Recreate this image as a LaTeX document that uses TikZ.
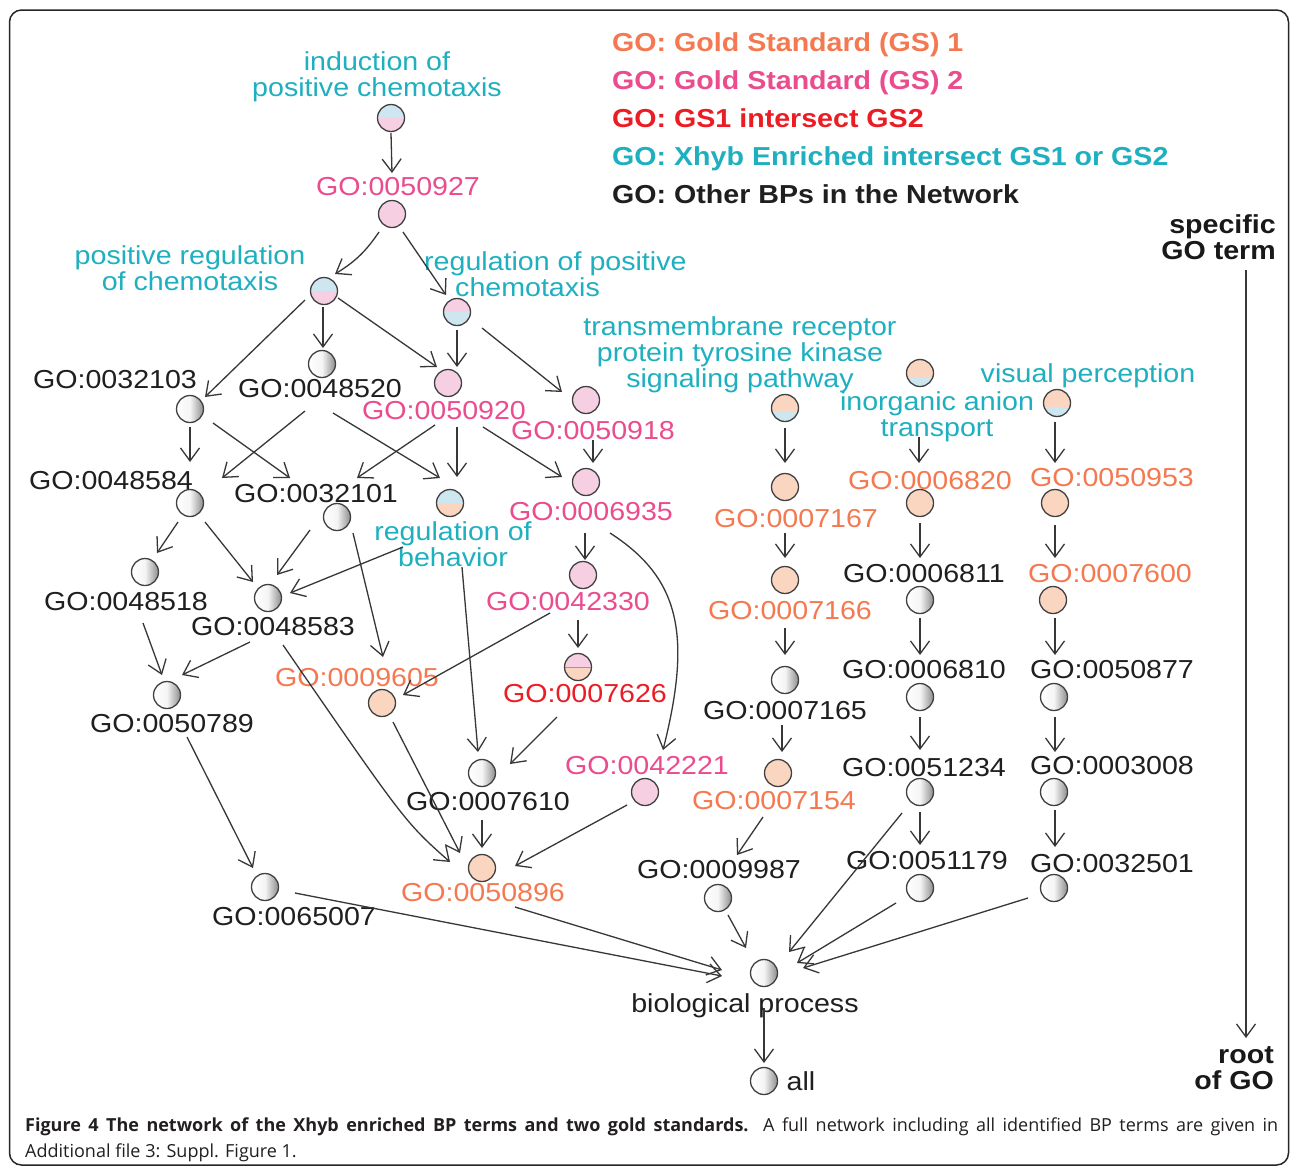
\documentclass[tikz,border=0pt]{standalone}
\usepackage{fontspec}
\setmainfont{Liberation Sans}[FakeStretch=1.1]
\newfontfamily\capfont{Open Sans}
\usetikzlibrary{arrows.meta}
\definecolor{gsone}{RGB}{244,121,80}
\definecolor{gstwo}{RGB}{234,76,142}
\definecolor{gsred}{RGB}{236,28,36}
\definecolor{xcyan}{RGB}{30,176,192}
\definecolor{fpink}{RGB}{246,208,226}
\definecolor{forange}{RGB}{250,214,192}
\definecolor{fblue}{RGB}{206,230,240}
\definecolor{edgec}{RGB}{55,55,55}
\definecolor{captxt}{RGB}{35,31,32}
\tikzset{
 gonode/.style={circle, draw=black!75, line width=1.3pt, minimum size=27pt, inner sep=0pt},
 grey/.style={gonode, left color=white, right color=black!45, middle color=white!96!black},
 pk/.style={gonode, fill=fpink},
 og/.style={gonode, fill=forange},
 split/.style n args={3}{gonode, path picture={
   \fill[#1] ([yshift=#3]path picture bounding box.west) rectangle (path picture bounding box.north east);
   \fill[#2] ([yshift=#3]path picture bounding box.west) rectangle (path picture bounding box.south east);
 }},
 splitline/.style n args={2}{gonode, path picture={
   \fill[#1] (path picture bounding box.west) rectangle (path picture bounding box.north east);
   \fill[#2] (path picture bounding box.west) rectangle (path picture bounding box.south east);
   \draw[black!40, line width=0.8pt] (path picture bounding box.west) -- (path picture bounding box.east);
 }},
 lab/.style={inner sep=0pt, font=\fontsize{26}{26}\selectfont},
 lo/.style={lab, text=gsone},
 lp/.style={lab, text=gstwo},
 lr/.style={lab, text=gsred},
 lk/.style={lab, text=black!88},
 lc/.style={lab, text=xcyan, align=center},
 leg/.style={inner sep=0pt, anchor=base west, font=\fontsize{26}{26}\selectfont\bfseries},
 axl/.style={inner sep=0pt, anchor=east, align=right, text=black!90, font=\fontsize{26}{26}\selectfont\bfseries},
 arr/.style={draw=edgec, line width=1.3pt, -{Straight Barb[length=13pt,width=19pt]}},
}
\newcommand\goedge[6]{\draw[arr] ([shift={(#2,#3)}]#1.center) -- ([shift={(#5,#6)}]#4.center);}
\begin{document}
\begin{tikzpicture}[x=1pt,y=-1pt]
\useasboundingbox (0,0) rectangle (1290,1168);
\fill[white] (0,0) rectangle (1290,1168);
\draw[line width=1.5pt, rounded corners=12pt, draw=black!85] (9.5,10) rectangle (1288.5,1165);

% legend
\node[leg, text=gsone] (leg1) at (612,51) {GO: Gold Standard (GS) 1};
\node[leg, text=gstwo] (leg2) at (612,89) {GO: Gold Standard (GS) 2};
\node[leg, text=gsred] (leg3) at (612,127) {GO: GS1 intersect GS2};
\node[leg, text=xcyan] (leg4) at (612,165) {GO: Xhyb Enriched intersect GS1 or GS2};
\node[leg, text=black!88] (leg5) at (612,203) {GO: Other BPs in the Network};

% axis
\node[axl] (spec) at (1276,237) {specific\\GO term};
\node[axl] (rootgo) at (1274,1068) {root\\of GO};
\coordinate (axtop) at (1246,270);
\coordinate (axbot) at (1246,1038);
\draw[arr] (axtop) -- (axbot);

% circles
\node[split={fblue}{fpink}{0pt}] (ipc) at (391,118) {};
\node[pk] (n50927) at (392,214) {};
\node[split={fblue}{fpink}{0pt}] (prc) at (324,291) {};
\node[split={fpink}{fblue}{0pt}] (rpc) at (457,312) {};
\node[grey] (n48520) at (322,364) {};
\node[grey] (n32103) at (190,409) {};
\node[pk] (n50920) at (448,383) {};
\node[pk] (n50918) at (586,400) {};
\node[split={forange}{fblue}{-3pt}] (tm) at (785,408) {};
\node[split={forange}{fblue}{-5pt}] (ia) at (920,373) {};
\node[split={forange}{fblue}{-4pt}] (vp) at (1057,403) {};
\node[grey] (n48584) at (190,503) {};
\node[grey] (n32101) at (337,517) {};
\node[split={fblue}{forange}{0pt}] (rb) at (450,503) {};
\node[pk] (n6935) at (586,482) {};
\node[og] (n7167) at (785,487) {};
\node[og] (n6820) at (920,503) {};
\node[og] (n50953) at (1055,503) {};
\node[grey] (n48518) at (145,572) {};
\node[grey] (n48583) at (268,598) {};
\node[pk] (n42330) at (583,575) {};
\node[og] (n7166) at (785,580) {};
\node[grey] (n6811) at (920,600) {};
\node[og] (n7600) at (1053,600) {};
\node[splitline={fpink}{forange}] (n7626) at (578,667) {};
\node[og] (n9605) at (382,703) {};
\node[grey] (n50789) at (167,695) {};
\node[grey] (n7165) at (785,680) {};
\node[grey] (n6810) at (920,697) {};
\node[grey] (n50877) at (1054,697) {};
\node[grey] (n7610) at (482,773) {};
\node[pk] (n42221) at (645,792) {};
\node[og] (n7154) at (778,773) {};
\node[grey] (n51234) at (920,792) {};
\node[grey] (n3008) at (1054,792) {};
\node[og] (n50896) at (482,868) {};
\node[grey] (n65007) at (265,887) {};
\node[grey] (n9987) at (718,898) {};
\node[grey] (n51179) at (920,888) {};
\node[grey] (n32501) at (1054,888) {};
\node[grey] (bp) at (764,973) {};
\node[grey] (all) at (764,1081) {};

% labels
\node[lc] (lipc) at (377,77) {induction of\\positive chemotaxis};
\node[lp] (l50927) at (398,187) {GO:0050927};
\node[lc] (lprc) at (190,268) {positive regulation\\of chemotaxis};
\node[lab, text=xcyan, align=left, anchor=west] (lrpc) at (424,274) {regulation of positive\\\hspace*{31pt}chemotaxis};
\node[lk] (l48520) at (320,389) {GO:0048520};
\node[lk] (l32103) at (115,380) {GO:0032103};
\node[lp] (l50920) at (444,411) {GO:0050920};
\node[lp] (l50918) at (593,431) {GO:0050918};
\node[lc] (ltm) at (740,355) {transmembrane receptor\\protein tyrosine kinase\\signaling pathway};
\node[lc] (lia) at (937,417) {inorganic anion\\transport};
\node[lab, text=xcyan, anchor=base] (lvp) at (1088,382) {visual perception};
\node[lk] (l48584) at (111,481) {GO:0048584};
\node[lk] (l32101) at (316,494) {GO:0032101};
\node[lc] (lrb) at (453,544) {regulation of\\behavior};
\node[lp] (l6935) at (591,512) {GO:0006935};
\node[lo] (l7167) at (796,519) {GO:0007167};
\node[lo] (l6820) at (930,481) {GO:0006820};
\node[lo] (l50953) at (1112,478) {GO:0050953};
\node[lk] (l48518) at (126,602) {GO:0048518};
\node[lk] (l48583) at (273,627) {GO:0048583};
\node[lp] (l42330) at (568,602) {GO:0042330};
\node[lo] (l7166) at (790,611) {GO:0007166};
\node[lk] (l6811) at (924,574) {GO:0006811};
\node[lo] (l7600) at (1110,574) {GO:0007600};
\node[lr] (l7626) at (585,694) {GO:0007626};
\node[lo] (l9605) at (357,678) {GO:0009605};
\node[lk] (l50789) at (172,724) {GO:0050789};
\node[lk] (l7165) at (785,711) {GO:0007165};
\node[lk] (l6810) at (924,670) {GO:0006810};
\node[lk] (l50877) at (1112,670) {GO:0050877};
\node[lk] (l7610) at (488,802) {GO:0007610};
\node[lp] (l42221) at (647,766) {GO:0042221};
\node[lo] (l7154) at (774,801) {GO:0007154};
\node[lk] (l51234) at (924,768) {GO:0051234};
\node[lk] (l3008) at (1112,766) {GO:0003008};
\node[lo] (l50896) at (483,893) {GO:0050896};
\node[lk] (l65007) at (294,917) {GO:0065007};
\node[lk] (l9987) at (719,870) {GO:0009987};
\node[lk] (l51179) at (927,861) {GO:0051179};
\node[lk] (l32501) at (1112,864) {GO:0032501};
\node[lk, anchor=base] (lbp) at (745,1012) {biological process};
\node[lk] (lall) at (801,1081) {all};

% edges
\goedge{ipc}{0}{15}{n50927}{0}{-41}
\draw[arr] ([shift={(-13,18)}]n50927.center) to[bend left=12] ([shift={(11,-17)}]prc.center);
\goedge{n50927}{11}{18}{rpc}{-11}{-17}
\goedge{prc}{-19}{9}{n32103}{15}{-12}
\goedge{prc}{-1}{16}{n48520}{1}{-16}
\goedge{prc}{14}{7}{n50920}{-11}{-16}
\goedge{rpc}{0}{18}{n50920}{9}{-16}
\goedge{rpc}{25}{16}{n50918}{-24}{-8}
\goedge{n48520}{-17}{47}{n48584}{32}{-25}
\goedge{n32103}{0}{18}{n48584}{0}{-41}
\goedge{n32103}{23}{14}{n32101}{-47}{-39}
\goedge{n48520}{11}{49}{rb}{-10}{-25}
\goedge{n50920}{-13}{42}{n32101}{20}{-39}
\goedge{n50920}{9}{44}{rb}{7}{-26}
\goedge{n50920}{35}{44}{n6935}{-24}{-5}
\goedge{n50918}{7}{40}{n6935}{7}{-19}
\goedge{tm}{0}{20}{n7167}{0}{-24}
\goedge{ia}{-1}{64}{n6820}{-1}{-40}
\goedge{vp}{-2}{19}{n50953}{0}{-40}
\goedge{n48584}{-12}{19}{n48518}{12}{-19}
\goedge{n48584}{15}{19}{n48583}{-15}{-16}
\goedge{n32101}{-27}{13}{n48583}{9}{-23}
\goedge{n32101}{16}{16}{n9605}{1}{-46}
\goedge{rb}{-47}{44}{n48583}{22}{-5}
\goedge{rb}{12}{64}{n7610}{-4}{-21}
\goedge{n48518}{-2}{51}{n50789}{-5}{-20}
\goedge{n48583}{-18}{44}{n50789}{15}{-20}
\draw[arr] ([shift={(15,47)}]n48583.center) .. controls ([shift={(-77,-46)}]n50896.center) .. ([shift={(-32,-6)}]n50896.center);
\goedge{n9605}{11}{19}{n50896}{-22}{-15}
\goedge{n42330}{-33}{38}{n9605}{21}{-8}
\goedge{n42330}{-5}{45}{n7626}{0}{-19}
\goedge{n6935}{-1}{51}{n42330}{2}{-15}
\draw[arr] ([shift={(24,51)}]n6935.center) .. controls ([shift={(35,-214)}]n42221.center) and ([shift={(47,-157)}]n42221.center) .. ([shift={(18,-42)}]n42221.center);
\goedge{n7626}{-21}{50}{n7610}{28}{-9}
\goedge{n7610}{0}{47}{n50896}{0}{-20}
\goedge{n42221}{-18}{13}{n50896}{33}{-2}
\goedge{n7167}{0}{46}{n7166}{0}{-22}
\goedge{n7166}{0}{48}{n7165}{0}{-25}
\goedge{n7165}{-3}{45}{n7154}{4}{-21}
\goedge{n7154}{-15}{44}{n9987}{19}{-43}
\goedge{n6820}{0}{20}{n6811}{0}{-42}
\goedge{n6811}{0}{18}{n6810}{0}{-42}
\goedge{n6810}{0}{20}{n51234}{0}{-42}
\goedge{n51234}{0}{20}{n51179}{0}{-43}
\goedge{n50953}{0}{22}{n7600}{2}{-42}
\goedge{n7600}{2}{18}{n50877}{1}{-42}
\goedge{n50877}{1}{20}{n3008}{1}{-40}
\goedge{n3008}{1}{18}{n32501}{1}{-41}
\goedge{n50789}{20}{42}{n65007}{-12}{-19}
\goedge{n65007}{30}{6}{bp}{-42}{3}
\goedge{n50896}{33}{39}{bp}{-42}{-3}
\goedge{n9987}{10}{17}{bp}{-18}{-25}
\goedge{n51234}{-18}{21}{bp}{25}{-21}
\goedge{n51179}{-24}{15}{bp}{33}{-10}
\goedge{n32501}{-26}{10}{bp}{39}{-5}
\goedge{bp}{0}{35}{all}{0}{-18}

% caption
\node[inner sep=0pt, anchor=base west, text=captxt, font=\capfont\fontsize{18}{24}\selectfont] (cap1) at (25,1131) {\makebox[1253pt][s]{\textbf{Figure 4 The network of the Xhyb enriched BP terms and two gold standards.} A full network including all identified BP terms are given in}};
\node[inner sep=0pt, anchor=base west, text=captxt, font=\capfont\fontsize{18}{24}\selectfont] (cap2) at (25,1157) {Additional file 3: Suppl. Figure 1.};
\end{tikzpicture}
\end{document}
